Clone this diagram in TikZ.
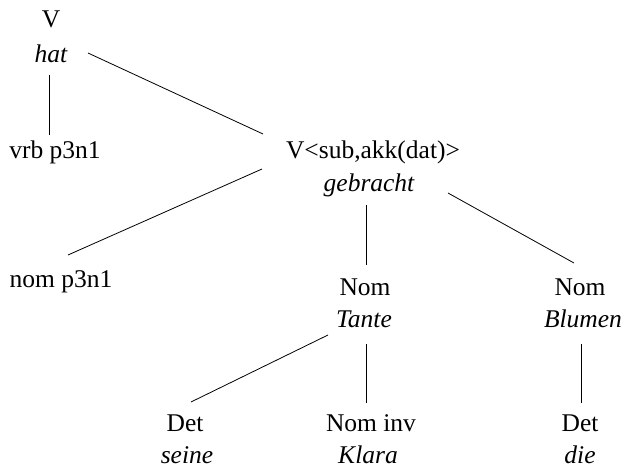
\documentclass[tikz,border=0pt]{standalone}
\usepackage{fontspec}
\setmainfont{Liberation Serif}
\begin{document}
\begin{tikzpicture}[x=1pt,y=-1pt,
  lbl/.style={anchor=base,inner sep=0pt,font=\fontsize{25.5}{30}\selectfont},
  word/.style={lbl,font=\fontsize{25.5}{30}\selectfont\itshape},
  branch/.style={draw=black,line width=0.8pt}]
\useasboundingbox (0,0) rectangle (624,468);

% tree labels: category line over word line
\node[lbl]  (catV)   at (51,28)  {V};
\node[word] (hat)    at (51,63)  {hat};
\node[lbl]  (vrb)    at (55,159) {vrb p3n1};
\node[lbl]  (vsub)   at (373,159) {V<sub,akk(dat)>};
\node[word] (gebr)   at (369,191) {gebracht};
\node[lbl]  (nomp)   at (61,287) {nom p3n1};
\node[lbl]  (nomT)   at (365,295) {Nom};
\node[word] (tante)  at (364,327) {Tante};
\node[lbl]  (nomB)   at (580,295) {Nom};
\node[word] (blumen) at (583,327) {Blumen};
\node[lbl]  (detS)   at (185,431) {Det};
\node[word] (seine)  at (187,463) {seine};
\node[lbl]  (nominv) at (371,431) {Nom inv};
\node[word] (klara)  at (368,463) {Klara};
\node[lbl]  (detD)   at (580,431) {Det};
\node[word] (die)    at (580,463) {die};

% branches
\draw[branch] ([shift={(-2,12)}]hat.base) -- ([shift={(-6,-24)}]vrb.base);
\draw[branch] ([shift={(37,-10)}]hat.base) -- ([shift={(-110,-25)}]vsub.base);
\draw[branch] ([shift={(-111,10)}]vsub.base) -- ([shift={(7,-32)}]nomp.base);
\draw[branch] ([shift={(-3,14)}]gebr.base) -- ([shift={(1,-30)}]nomT.base);
\draw[branch] ([shift={(79,2)}]gebr.base) -- ([shift={(-6,-32)}]nomB.base);
\draw[branch] ([shift={(-36,8)}]tante.base) -- ([shift={(6,-29)}]detS.base);
\draw[branch] ([shift={(2,17)}]tante.base) -- ([shift={(-5,-28)}]nominv.base);
\draw[branch] ([shift={(-2,17)}]blumen.base) -- ([shift={(1,-28)}]detD.base);
\end{tikzpicture}
\end{document}
